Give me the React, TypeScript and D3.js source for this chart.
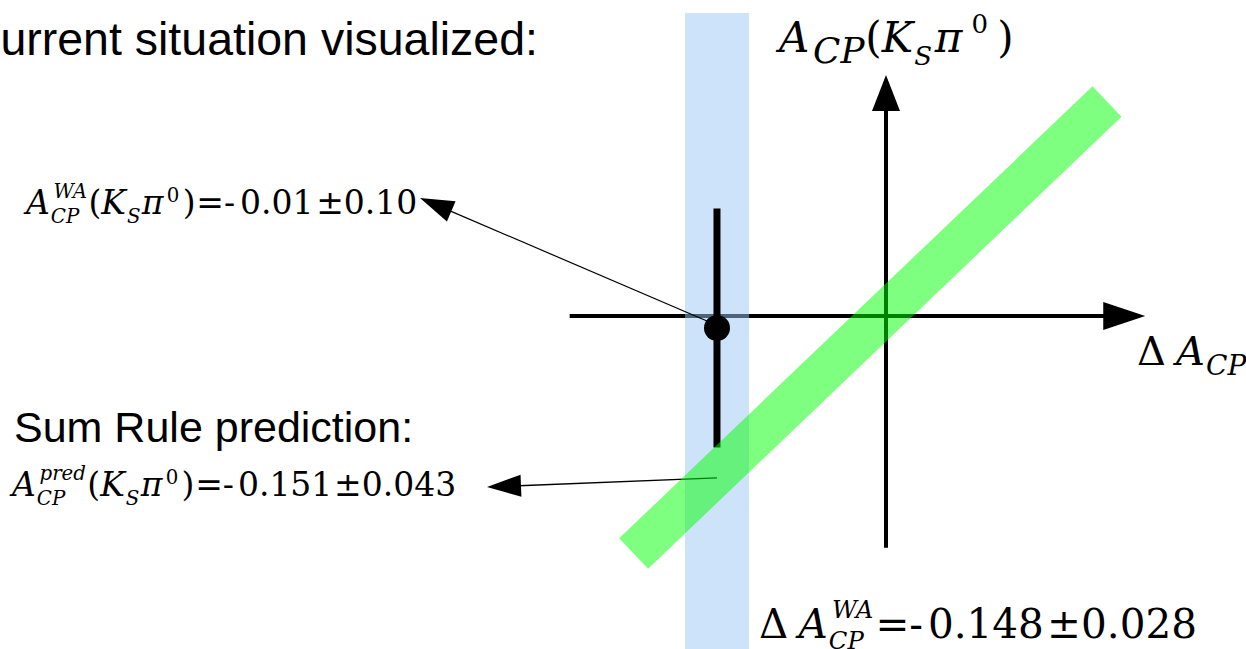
import React, { useEffect, useRef } from "react";
import * as d3 from "d3";

const W = 1246;
const H = 649;

// Measured / predicted quantities: central value, uncertainty, printed decimals
const quantityKeys = ["deltaACP_WA", "acpKsPi0_WA", "acpKsPi0_pred"];
const centralValues = [-0.148, -0.01, -0.151];
const uncertainties = [0.028, 0.1, 0.043];
const decimalPlaces = [3, 2, 3];

// Sum-rule band centreline endpoints in (ΔA_CP, A_CP(K_S π0)) coordinates
const bandDeltaACP = [-0.221, 0.1935];
const bandACP = [-0.1987, 0.1795];

// Axis extents (tail, arrow tip) in data units
const xAxisExtent = [-0.277, 0.227];
const yAxisExtent = [-0.194, 0.2017];
// Vertical extent of the ΔA_CP measurement band
const deltaBandYExtent = [-0.3, 0.2536];

const fmtAbs = (v: number, d: number) => Math.abs(v).toFixed(d);
const sign = (v: number) => (v < 0 ? "-" : "");

type Tok = {
  t?: string;
  it?: boolean;
  sup?: string;
  sub?: string;
  supIt?: boolean;
  gap?: number;
  ss?: number; // script scale override
  sgap?: number; // gap before scripts (em)
  supShift?: number;
  subShift?: number;
};

const SERIF = "'DejaVu Serif', serif";
const SANS = "'Liberation Sans', Arial, Helvetica, sans-serif";

type G = d3.Selection<SVGGElement, unknown, null, undefined>;

function drawMath(parent: G, x0: number, y0: number, size: number, toks: Tok[], scriptScale = 0.6) {
  const grp = parent.append("g");
  let x = 0;
  const put = (txt: string, xx: number, yy: number, fs: number, it: boolean) => {
    const el = grp
      .append("text")
      .attr("x", xx)
      .attr("y", yy)
      .style("font-family", SERIF)
      .style("font-size", fs + "px")
      .style("font-style", it ? "italic" : "normal")
      .attr("fill", "#000")
      .text(txt);
    return (el.node() as SVGTextElement).getComputedTextLength();
  };
  toks.forEach((tk) => {
    if (tk.gap) x += tk.gap * size;
    if (tk.t !== undefined) {
      x += put(tk.t, x, 0, size, !!tk.it);
    }
    if (tk.sup !== undefined || tk.sub !== undefined) {
      const ss = size * (tk.ss ?? scriptScale);
      const both = tk.sup !== undefined && tk.sub !== undefined;
      const sx = x + (tk.it ? size * 0.03 : 0) + (tk.sgap ?? 0) * size;
      let w = 0;
      if (tk.sup !== undefined) {
        const off = both ? size * 0.08 : 0;
        const sh = tk.supShift ?? (both ? 0.5 : 0.36);
        w = Math.max(w, off + put(tk.sup, sx + off, -size * sh, ss, tk.supIt !== false));
      }
      if (tk.sub !== undefined) {
        w = Math.max(w, put(tk.sub, sx, size * (tk.subShift ?? 0.28), ss, true));
      }
      x = sx + w;
    }
  });
  grp.attr("transform", `translate(${x0},${y0})`);
}

export default function App() {
  const ref = useRef<SVGSVGElement>(null);

  useEffect(() => {
    const svg = d3.select(ref.current as SVGSVGElement);
    svg.selectAll("*").remove();
    const root = svg.append("g") as G;

    const x = d3.scaleLinear().domain([0, 0.1]).range([886, 886 + 114.2]);
    const y = d3.scaleLinear().domain([0, 0.1]).range([316, 316 - 119.5]);

    const [dVal, aVal, pVal] = centralValues;
    const [dErr, aErr, pErr] = uncertainties;
    const [dDec, aDec, pDec] = decimalPlaces;

    // Axes
    const axisW = 4;
    root
      .append("line")
      .attr("x1", x(xAxisExtent[0]))
      .attr("x2", x(xAxisExtent[1]) - 38)
      .attr("y1", y(0))
      .attr("y2", y(0))
      .attr("stroke", "#000")
      .attr("stroke-width", axisW);
    root
      .append("path")
      .attr(
        "d",
        `M${x(xAxisExtent[1])},${y(0)} L${x(xAxisExtent[1]) - 42},${y(0) - 14} L${x(xAxisExtent[1]) - 42},${y(0) + 14} Z`
      )
      .attr("fill", "#000");
    root
      .append("line")
      .attr("x1", x(0))
      .attr("x2", x(0))
      .attr("y1", y(yAxisExtent[0]))
      .attr("y2", y(yAxisExtent[1]) + 32)
      .attr("stroke", "#000")
      .attr("stroke-width", axisW);
    root
      .append("path")
      .attr(
        "d",
        `M${x(0)},${y(yAxisExtent[1])} L${x(0) - 14},${y(yAxisExtent[1]) + 36} L${x(0) + 14},${y(yAxisExtent[1]) + 36} Z`
      )
      .attr("fill", "#000");

    // ΔA_CP world-average band
    root
      .append("rect")
      .attr("x", x(dVal - dErr))
      .attr("width", x(dVal + dErr) - x(dVal - dErr))
      .attr("y", y(deltaBandYExtent[1]))
      .attr("height", y(deltaBandYExtent[0]) - y(deltaBandYExtent[1]))
      .attr("fill", "rgb(153,200,245)")
      .attr("fill-opacity", 0.5);

    // A_CP(K_S π0) world average with error bar
    root
      .append("line")
      .attr("x1", x(dVal))
      .attr("x2", x(dVal))
      .attr("y1", y(aVal + aErr))
      .attr("y2", y(aVal - aErr))
      .attr("stroke", "#000")
      .attr("stroke-width", 7);
    root.append("circle").attr("cx", x(dVal)).attr("cy", y(aVal)).attr("r", 13).attr("fill", "#000");

    // Annotation arrows
    const arrow = (sx: number, sy: number, tx: number, ty: number, lw: number) => {
      const dx = sx - tx;
      const dy = sy - ty;
      const L = Math.hypot(dx, dy);
      const ux = dx / L;
      const uy = dy / L;
      const hl = 34;
      const hw = 11;
      const bx = tx + ux * hl;
      const by = ty + uy * hl;
      root
        .append("line")
        .attr("x1", sx)
        .attr("y1", sy)
        .attr("x2", bx - ux * 2)
        .attr("y2", by - uy * 2)
        .attr("stroke", "#000")
        .attr("stroke-width", lw);
      root
        .append("path")
        .attr("d", `M${tx},${ty} L${bx - uy * hw},${by + ux * hw} L${bx + uy * hw},${by - ux * hw} Z`)
        .attr("fill", "#000");
    };
    arrow(x(dVal) - 3, y(aVal) - 4, 420, 198, 1.2);

    const bandAt = d3.scaleLinear().domain(bandDeltaACP).range(bandACP);
    arrow(x(dVal), y(bandAt(dVal)) + 4, 487, 487, 1.4);

    // Sum-rule prediction band
    root
      .append("line")
      .attr("x1", x(bandDeltaACP[0]))
      .attr("y1", y(bandACP[0]))
      .attr("x2", x(bandDeltaACP[1]))
      .attr("y2", y(bandACP[1]))
      .attr("stroke", "rgb(0,255,0)")
      .attr("stroke-opacity", 0.5)
      .attr("stroke-width", 42)
      .attr("stroke-linecap", "butt");

    // Plain text
    root
      .append("text")
      .attr("x", 538)
      .attr("y", 55)
      .attr("text-anchor", "end")
      .style("font-family", SANS)
      .style("font-size", "46.5px")
      .attr("fill", "#000")
      .text("Current situation visualized:");
    root
      .append("text")
      .attr("x", 14)
      .attr("y", 442)
      .style("font-family", SANS)
      .style("font-size", "43px")
      .attr("fill", "#000")
      .text("Sum Rule prediction:");

    // Formula labels
    drawMath(root, 26, 214, 33, [
      { t: "A", it: true, sup: "WA", sub: "CP" },
      { t: "(", gap: 0.04 },
      { t: "K", it: true, sub: "S" },
      { t: "π", it: true, gap: 0.04 },
      { sup: "0", supIt: false, gap: 0.1 },
      { t: ")", gap: 0.1 },
      { t: "=-", gap: 0.02 },
      { t: fmtAbs(aVal, aDec), gap: 0.15 },
      { t: "±" + aErr.toFixed(aDec), gap: 0.08 },
    ]);

    drawMath(root, 12, 496, 33, [
      { t: "A", it: true, sup: "pred", sub: "CP" },
      { t: "(", gap: 0.04 },
      { t: "K", it: true, sub: "S" },
      { t: "π", it: true, gap: 0.04 },
      { sup: "0", supIt: false, gap: 0.1 },
      { t: ")", gap: 0.1 },
      { t: "=" + sign(pVal), gap: 0.02 },
      { t: fmtAbs(pVal, pDec), gap: 0.12 },
      { t: "±" + pErr.toFixed(pDec), gap: 0.05 },
    ]);

    drawMath(root, 759, 638, 40.5, [
      { t: "Δ" },
      { t: "A", it: true, sup: "WA", sub: "CP", gap: 0.25 },
      { t: "=" + sign(dVal), gap: 0.05 },
      { t: fmtAbs(dVal, dDec), gap: 0.12 },
      { t: "±" + dErr.toFixed(dDec), gap: 0.08 },
    ]);

    drawMath(root, 779, 52, 42, [
      { t: "A", it: true, sub: "CP", ss: 0.85, sgap: 0.06, subShift: 0.25 },
      { t: "(", gap: 0.02 },
      { t: "K", it: true, sub: "S", ss: 0.62, subShift: 0.3 },
      { t: "π", it: true, gap: 0.06 },
      { sup: "0", supIt: false, ss: 0.62, supShift: 0.45, gap: 0.22 },
      { t: ")", gap: 0.22 },
    ]);

    drawMath(
      root,
      1137,
      365,
      40,
      [
        { t: "Δ" },
        { t: "A", it: true, sub: "CP", gap: 0.25, subShift: 0.25 },
      ],
      0.7
    );

    root.attr("data-quantities", quantityKeys.join(","));
  }, []);

  return (
    <svg
      ref={ref}
      width={W}
      height={H}
      viewBox={`0 0 ${W} ${H}`}
      style={{ position: "absolute", left: 0, top: 0, background: "#fff" }}
    />
  );
}
